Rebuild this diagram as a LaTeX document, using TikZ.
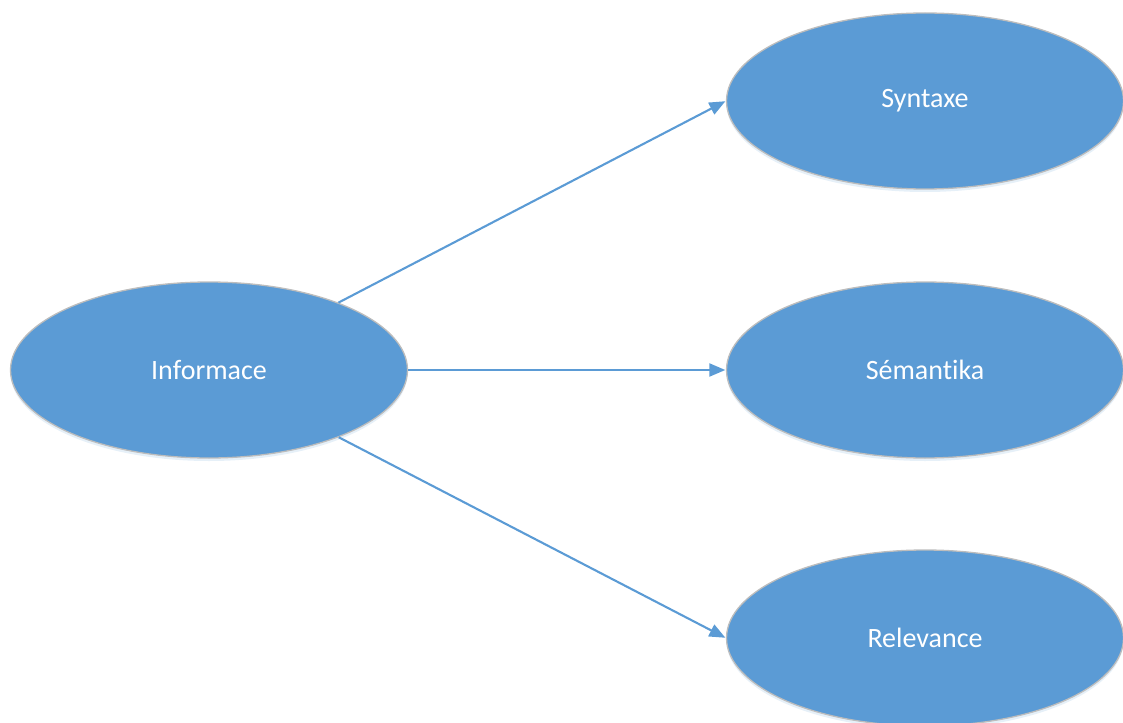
\documentclass[tikz,border=0pt]{standalone}
\usepackage{fontspec}
\setmainfont{Carlito}[Ligatures=NoCommon]
\usetikzlibrary{shapes.geometric,arrows.meta,shadows}
\definecolor{blueFill}{HTML}{5B9BD5}
\definecolor{edgeGrey}{HTML}{BDBDBD}
\tikzset{
  oval/.style={ellipse, fill=blueFill, draw=edgeGrey, line width=1.3pt,
    minimum width=397pt, minimum height=176pt, inner sep=0pt,
    text=white, font=\fontsize{28}{32}\selectfont,
    drop shadow={shadow xshift=0pt, shadow yshift=-3pt, fill=blueFill!25, opacity=0.6}},
  link/.style={draw=blueFill, line width=2.1pt, -{Triangle[length=16pt,width=13pt]}, shorten >=0.5pt}
}
\begin{document}
\begin{tikzpicture}[x=1pt,y=-1pt]
\useasboundingbox (0,0) rectangle (1123,722);
\node[oval] (inf) at (209,370) {Informace};
\node[oval] (syn) at (925,101) {Syntaxe};
\node[oval] (sem) at (925,370) {Sémantika};
\node[oval] (rel) at (925,638) {Relevance};
\draw[link] (inf) -- (syn.west);
\draw[link] (inf) -- (sem.west);
\draw[link] (inf) -- (rel.west);
\end{tikzpicture}
\end{document}
